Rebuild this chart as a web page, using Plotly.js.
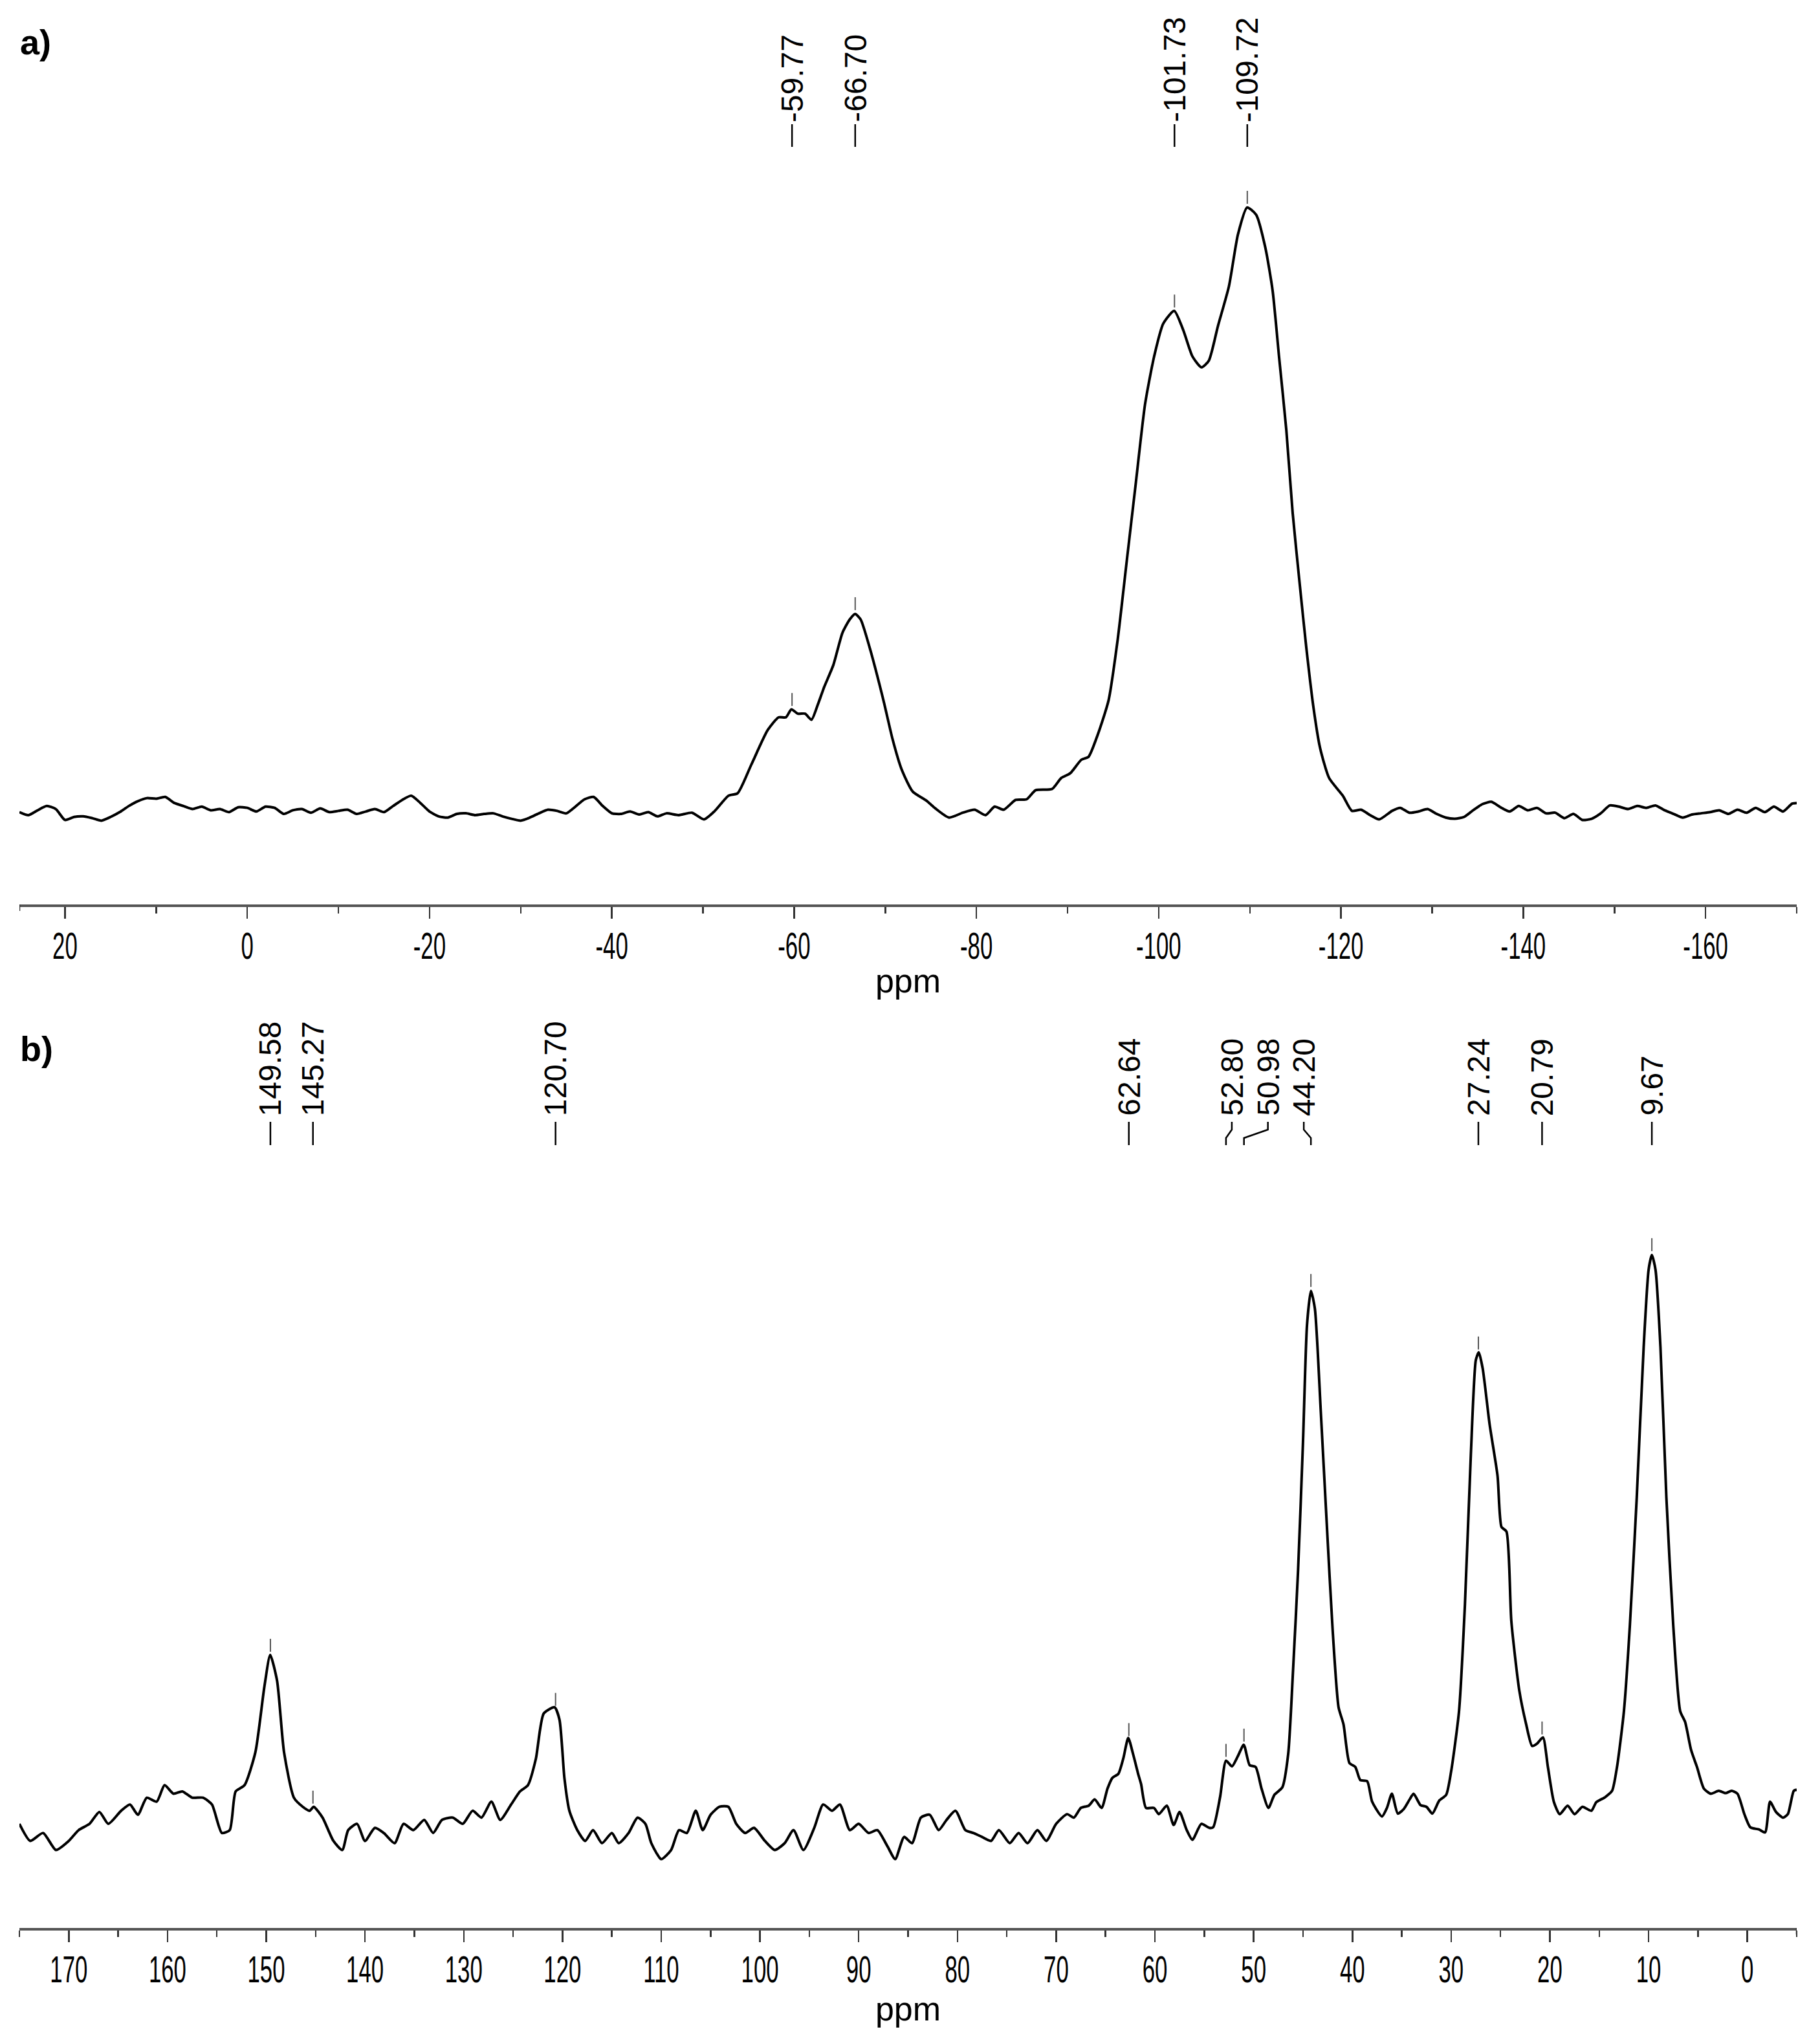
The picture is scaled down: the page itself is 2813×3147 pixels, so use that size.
<!DOCTYPE html>
<html>
<head>
<meta charset="utf-8">
<script src="https://cdn.plot.ly/plotly-3.0.1.min.js"></script>
<style>
html,body{margin:0;padding:0;background:#ffffff;}
#chart{width:2813px;height:3147px;}
</style>
</head>
<body>
<div id="chart"></div>
<script>
// ---------------- DATA ----------------
// Panel a) 29Si spectrum: chemical shift (ppm) and relative intensity
const ppmA = [25,24,23,22,21,20,19,18,17,16,15,14,13,12,11,10,9,8,7,6,5,4,3,2,1,0,
  -1,-2,-3,-4,-5,-6,-7,-8,-9,-10,-11,-12,-13,-14,-15,-16,-17,-18,-19,-20,-21,-22,-23,-24,-25,
  -26,-27,-28,-29,-30,-31,-32,-33,-34,-35,-36,-37,-38,-39,-40,-41,-42,-43,-44,-45,-46,
  -47.3,-48.8,-50.1,-51.3,-52.8,-53.8,-55.3,-57.1,-58.3,-59.1,-59.7,-60.4,-61.2,-61.9,-62.6,-63.3,
  -64.3,-65.3,-66.1,-66.7,-67.3,-68.3,-69.8,-70.8,-71.8,-73.0,-74.5,-75.5,-77.0,-78.5,-79.8,-81.0,
  -82.0,-83.0,-84.3,-85.5,-86.5,-88.3,-89.3,-90.3,-91.5,-92.3,-93.3,-94.5,-95.5,-96.5,-97.5,-98.5,
  -99.5,-100.5,-101.7,-102.7,-103.7,-104.7,-105.5,-106.5,-107.7,-108.7,-109.7,-110.7,-111.7,-112.5,
  -113.2,-114.0,-114.7,-115.5,-116.2,-117.0,-117.7,-118.7,-120.2,-121.2,-122.2,-123.2,-124.2,-125.6,
  -126.5,-127.5,-128.5,-129.5,-130.5,-131.5,-132.5,-133.5,-134.5,-135.5,-136.5,-137.5,-138.5,-139.5,
  -140.5,-141.5,-142.5,-143.5,-144.5,-145.5,-146.5,-147.5,-148.5,-149.5,-150.5,-151.5,-152.5,-153.5,
  -154.5,-155.5,-156.5,-157.5,-158.5,-159.5,-160.5,-161.5,-162.5,-163.5,-164.5,-165.5,-166.5,-167.5,
  -168.5,-169.5,-170];
const intA = [0.5,0.0,0.8,1.5,1.0,-0.8,-0.3,-0.2,-0.5,-0.9,-0.3,0.5,1.5,2.3,2.8,2.7,3.0,2.0,1.5,1.0,1.4,0.8,1.0,0.5,1.3,1.2,
  0.6,1.4,1.2,0.2,0.8,1.0,0.4,1.1,0.5,0.7,0.9,0.2,0.6,1.0,0.5,1.5,2.5,3.2,2.0,0.6,-0.2,-0.4,0.2,0.3,0.0,
  0.2,0.3,-0.2,-0.6,-0.9,-0.4,0.3,0.9,0.7,0.3,1.4,2.6,3.0,1.5,0.3,0.2,0.6,0.1,0.5,-0.2,0.3,
  0.0,0.4,-0.7,0.7,3.2,3.6,8.3,14.0,16.1,16.1,17.4,16.7,16.7,15.7,18.2,21.1,
  24.7,30.0,32.2,33.1,32.2,27.5,18.9,12.5,7.5,3.9,2.4,1.1,-0.4,0.4,0.9,0.0,
  1.4,0.9,2.5,2.6,4.1,4.3,6.1,6.9,9.1,9.6,13.2,18.9,28.9,41.9,54.8,67.6,
  75.5,80.9,83.0,79.8,75.5,73.7,74.8,80.5,87.0,95.6,100,98.8,93.4,86.3,
  75.5,63.4,49.7,37.6,27.5,17.5,11.1,6.1,3.2,0.7,0.9,0.0,-0.7,0.7,
  1.2,0.4,0.6,1.0,0.2,-0.4,-0.6,-0.3,0.8,1.8,2.2,1.3,0.6,1.5,
  0.8,1.2,0.3,0.4,-0.5,0.2,-0.8,-0.6,0.3,1.6,1.4,1.0,1.5,1.2,
  1.6,0.8,0.2,-0.4,0.1,0.3,0.5,0.8,0.2,0.9,0.4,1.2,0.5,1.4,
  0.6,1.9,2.0];
const peaksA = [-59.77, -66.70, -101.73, -109.72];
const peakLabelsA = ["-59.77", "-66.70", "-101.73", "-109.72"];
const tickValsA = [20, 0, -20, -40, -60, -80, -100, -120, -140, -160];
const tickTextA = ["20", "0", "-20", "-40", "-60", "-80", "-100", "-120", "-140", "-160"];

// Panel b) 13C spectrum
const ppmB = [175.0,173.9,172.6,171.3,170.0,169.0,167.9,166.9,166.0,164.7,163.8,163.0,162.1,161.1,160.3,159.4,
  158.5,157.5,156.4,155.5,154.5,153.7,153.1,152.2,151.1,150.2,149.6,148.9,148.2,147.2,146.3,145.6,145.2,
  144.3,143.2,142.3,141.7,140.8,140.0,139.0,138.1,137.0,136.1,135.1,134.0,133.1,132.2,131.1,130.1,129.1,
  128.2,127.2,126.3,125.2,124.3,123.5,122.7,121.9,120.8,120.3,119.8,119.3,118.5,117.7,116.9,116.0,115.0,
  114.3,113.3,112.4,111.6,111.0,110.0,109.0,108.2,107.4,106.5,105.8,105.0,104.1,103.2,102.4,101.5,100.6,
  99.5,98.5,97.5,96.6,95.6,94.5,93.6,92.7,91.9,90.9,90.0,89.0,88.1,87.1,86.3,85.4,84.6,83.7,82.8,81.9,
  81.1,80.2,79.2,78.4,77.5,76.6,75.8,74.7,73.8,72.9,71.9,71.0,70.0,
  68.9,68.2,67.5,66.7,66.1,65.4,64.8,64.3,63.7,63.2,62.7,62.2,61.7,61.4,60.9,60.1,59.6,58.8,58.1,57.5,
  56.8,56.2,55.3,54.5,54.1,53.4,52.8,52.2,51.6,51.0,50.4,49.8,49.2,48.5,47.9,47.1,46.5,46.0,45.5,45.0,
  44.6,44.2,43.8,43.2,42.6,42.0,41.4,40.9,40.3,39.7,39.2,38.5,38.0,37.0,36.5,36.0,35.4,34.8,34.2,33.8,
  33.1,32.5,31.9,31.2,30.5,30.0,29.2,28.6,28.0,27.5,27.2,26.8,26.1,25.3,24.9,24.4,23.9,23.1,22.4,21.8,
  21.3,20.7,20.2,19.6,19.0,18.2,17.5,16.7,15.8,15.3,14.4,13.7,13.2,12.5,11.9,11.2,10.5,10.0,9.67,9.3,
  8.8,8.2,7.5,6.8,6.3,5.7,5.1,4.4,3.7,2.9,2.2,1.6,1.0,0.3,-0.3,-1.2,-1.8,-2.3,-2.9,-3.6,-4.1,-4.7,-5.0];
const intB = [0.0,-3.0,-1.6,-4.6,-3.0,-1.1,0.0,2.1,0.0,2.3,3.4,1.6,4.6,3.9,6.8,5.3,
  5.7,4.6,4.6,3.4,-1.6,-1.1,5.7,6.8,12.6,24.0,29.7,25.1,12.6,4.6,3.0,2.3,3.0,
  1.1,-3.0,-4.6,-1.1,0.0,-3.0,-0.7,-1.6,-3.4,0.0,-1.1,0.7,-1.6,0.7,1.1,0.0,2.3,
  1.1,3.9,0.7,3.4,5.7,6.8,11.4,19.4,20.5,18.3,8.0,2.3,-1.1,-3.0,-1.1,-3.4,-1.6,
  -3.4,-1.6,1.1,0.0,-3.4,-6.2,-4.6,-1.1,-1.6,2.3,-1.1,1.6,3.0,3.0,0.0,-1.6,-0.7,
  -3.0,-4.6,-3.4,-1.1,-4.6,-0.7,3.4,2.3,3.4,-1.1,0.0,-1.6,-1.1,-3.9,-6.2,-2.3,-3.4,1.1,1.6,-1.1,
  0.7,2.3,-1.1,-1.6,-2.3,-3.0,-1.1,-3.4,-1.6,-3.4,-1.1,-3.0,0.0,
  1.7,1.1,2.8,3.2,4.3,2.8,6.2,8.1,8.8,11.5,15.1,12.2,8.8,7.0,2.8,2.8,1.7,3.2,-0.2,2.1,
  -1.0,-2.8,0.0,-0.7,-0.6,4.7,11.1,10.1,11.9,13.9,10.3,10.0,6.2,2.8,5.1,6.4,12.3,27.3,44.6,67.2,
  87.6,93.7,90.6,72.5,52.9,34.1,20.5,17.5,10.7,10.0,7.7,7.5,3.9,1.3,2.8,5.3,1.8,2.6,4.3,5.3,
  3.3,3.0,1.8,4.1,5.1,9.2,19.8,38.6,65.0,81.5,82.9,80.0,70.2,61.2,52.2,51.4,35.6,23.5,17.5,13.7,
  14.1,15.2,10.0,3.9,1.7,3.2,1.7,3.0,2.3,3.8,4.7,5.8,10.0,19.8,34.8,57.4,83.8,97.4,100,97.4,
  83.8,57.4,34.8,19.8,17.9,13.0,10.0,6.2,5.3,5.8,5.4,5.8,5.3,1.7,-0.6,-1.0,-1.5,3.9,2.1,1.1,1.7,5.8,6.0];
const peaksB = [149.58, 145.27, 120.70, 62.64, 52.80, 50.98, 44.20, 27.24, 20.79, 9.67];
const peakLabelsB = ["149.58", "145.27", "120.70", "62.64", "52.80", "50.98", "44.20", "27.24", "20.79", "9.67"];
const tickValsB = [170, 160, 150, 140, 130, 120, 110, 100, 90, 80, 70, 60, 50, 40, 30, 20, 10, 0];
const tickTextB = ["170", "160", "150", "140", "130", "120", "110", "100", "90", "80", "70", "60", "50", "40", "30", "20", "10", "0"];

// ---------------- LAYOUT ----------------
const W = 2813, H = 3147, ML = 30, MR = 36;
const plotW = W - ML - MR;
const rangeA = [25, -170], rangeB = [175, -5];
const pxPerPpmB = plotW / (rangeB[0] - rangeB[1]);
const py = p => 1 - p / H;           // pixel from top -> paper fraction

const tickFont = {family: "Liberation Sans, Arial, sans-serif", size: 58, color: "#000"};
const titleFont = {family: "Liberation Sans, Arial, sans-serif", size: 52, color: "#000"};
const labelFont = {family: "Liberation Sans, Arial, Helvetica, sans-serif", size: 48, color: "#000"};
const panelFont = {family: "Liberation Sans, Arial, Helvetica, sans-serif", size: 54, color: "#000", weight: 700};
const TICK_LABEL_SQUEEZE = 0.6;   // tick labels in the original use a condensed face

function interp(xs, ys, x) {
  for (let i = 0; i < xs.length - 1; i++) {
    const a = xs[i], b = xs[i + 1];
    if ((x <= a && x >= b) || (x >= a && x <= b)) {
      const t = (x - a) / (b - a);
      return ys[i] + t * (ys[i + 1] - ys[i]);
    }
  }
  return 0;
}
function minorTicks(r, step) {
  const out = [];
  const lo = Math.min(r[0], r[1]), hi = Math.max(r[0], r[1]);
  for (let v = Math.ceil(lo / step) * step; v <= hi + 1e-9; v += step) out.push(v);
  return out;
}

function xAxis(range, vals, text, minorStep, anchor) {
  return {
    range: range, anchor: anchor, domain: [0, 1],
    showline: true, linewidth: 4, linecolor: "#555",
    ticks: "outside", ticklen: 18, tickwidth: 2.5, tickcolor: "#333",
    tickmode: "array", tickvals: vals, ticktext: text,
    tickfont: tickFont, ticklabelstandoff: -8,
    minor: {tickmode: "array", tickvals: minorTicks(range, minorStep), ticks: "outside", ticklen: 10, tickwidth: 2.5, tickcolor: "#333"},
    showgrid: false, zeroline: false, fixedrange: true,
    title: {text: "ppm", font: titleFont, standoff: 6}
  };
}

const shapes = [], annotations = [];

// Panel a labels
peaksA.forEach((p, i) => {
  shapes.push({type: "line", xref: "x", yref: "paper", x0: p, x1: p, y0: py(227), y1: py(192),
    line: {color: "#000", width: 2.5}});
  annotations.push({xref: "x", yref: "paper", x: p, y: py(190), text: peakLabelsA[i], textangle: -90,
    xanchor: "center", yanchor: "bottom", showarrow: false, font: labelFont, borderpad: 0});
  const yv = interp(ppmA, intA, p);
  shapes.push({type: "line", xref: "x", yref: "y", ysizemode: "pixel", yanchor: yv,
    x0: p, x1: p, y0: 6, y1: 26, line: {color: "#555", width: 2}});
});

// Panel b labels (clustered labels spread apart with bent leader lines)
const shiftB = [0, 0, 0, 0, 9, 37, -11, 0, 0, 0];
peaksB.forEach((p, i) => {
  const s = shiftB[i];
  const xt = p - s / pxPerPpmB;
  if (s === 0) {
    shapes.push({type: "line", xref: "x2", yref: "paper", x0: p, x1: p, y0: py(1770), y1: py(1734),
      line: {color: "#000", width: 2.5}});
  } else {
    const path = "M" + p + "," + py(1770) + " L" + p + "," + py(1759) + " L" + xt + "," + py(1746) + " L" + xt + "," + py(1734);
    shapes.push({type: "path", xref: "x2", yref: "paper", path: path, line: {color: "#000", width: 2.5}});
  }
  annotations.push({xref: "x2", yref: "paper", x: xt, y: py(1726), text: peakLabelsB[i], textangle: -90,
    xanchor: "center", yanchor: "bottom", showarrow: false, font: labelFont, borderpad: 0});
  const yv = interp(ppmB, intB, p);
  shapes.push({type: "line", xref: "x2", yref: "y2", ysizemode: "pixel", yanchor: yv,
    x0: p, x1: p, y0: 6, y1: 26, line: {color: "#555", width: 2}});
});

// Axis end ticks
shapes.push({type: "line", xref: "x", yref: "paper", x0: rangeA[0], x1: rangeA[0], y0: py(1398), y1: py(1408), line: {color: "#333", width: 2.5}});
shapes.push({type: "line", xref: "x2", yref: "paper", x0: rangeB[1], x1: rangeB[1], y0: py(2980), y1: py(2990), line: {color: "#333", width: 2.5}});

// Panel letters
annotations.push({xref: "paper", yref: "paper", x: 0, y: py(34), text: "a)", xanchor: "left", yanchor: "top",
  showarrow: false, font: panelFont, borderpad: 0});
annotations.push({xref: "paper", yref: "paper", x: 0, y: py(1590), text: "b)", xanchor: "left", yanchor: "top",
  showarrow: false, font: panelFont, borderpad: 0});

const traces = [
  {x: ppmA, y: intA, xaxis: "x", yaxis: "y", type: "scatter", mode: "lines",
   line: {color: "#000", width: 4, shape: "spline", smoothing: 0.6}, hoverinfo: "skip", showlegend: false},
  {x: ppmB, y: intB, xaxis: "x2", yaxis: "y2", type: "scatter", mode: "lines",
   line: {color: "#000", width: 4, shape: "spline", smoothing: 0.6}, hoverinfo: "skip", showlegend: false}
];

const layout = {
  width: W, height: H,
  margin: {l: ML, r: MR, t: 0, b: 0},
  paper_bgcolor: "#fff", plot_bgcolor: "rgba(0,0,0,0)",
  showlegend: false, hovermode: false,
  xaxis: xAxis(rangeA, tickValsA, tickTextA, 10, "y"),
  xaxis2: xAxis(rangeB, tickValsB, tickTextB, 5, "y2"),
  yaxis: {domain: [py(1398), py(240)], range: [-14.7, 108.6], visible: false, fixedrange: true},
  yaxis2: {domain: [py(2980), py(1800)], range: [-18.3, 115.9], visible: false, fixedrange: true},
  shapes: shapes,
  annotations: annotations
};

Plotly.newPlot("chart", traces, layout, {displayModeBar: false, staticPlot: true}).then(gd => {
  // narrow the tick-label glyphs horizontally around their own anchor
  gd.querySelectorAll(".xtick text, .x2tick text").forEach(t => {
    const x = parseFloat(t.getAttribute("x")) || 0;
    const tr = t.getAttribute("transform") || "";
    t.setAttribute("transform", tr + " translate(" + x + ",0) scale(" + TICK_LABEL_SQUEEZE + ",1) translate(" + (-x) + ",0)");
  });
});
</script>
</body>
</html>
